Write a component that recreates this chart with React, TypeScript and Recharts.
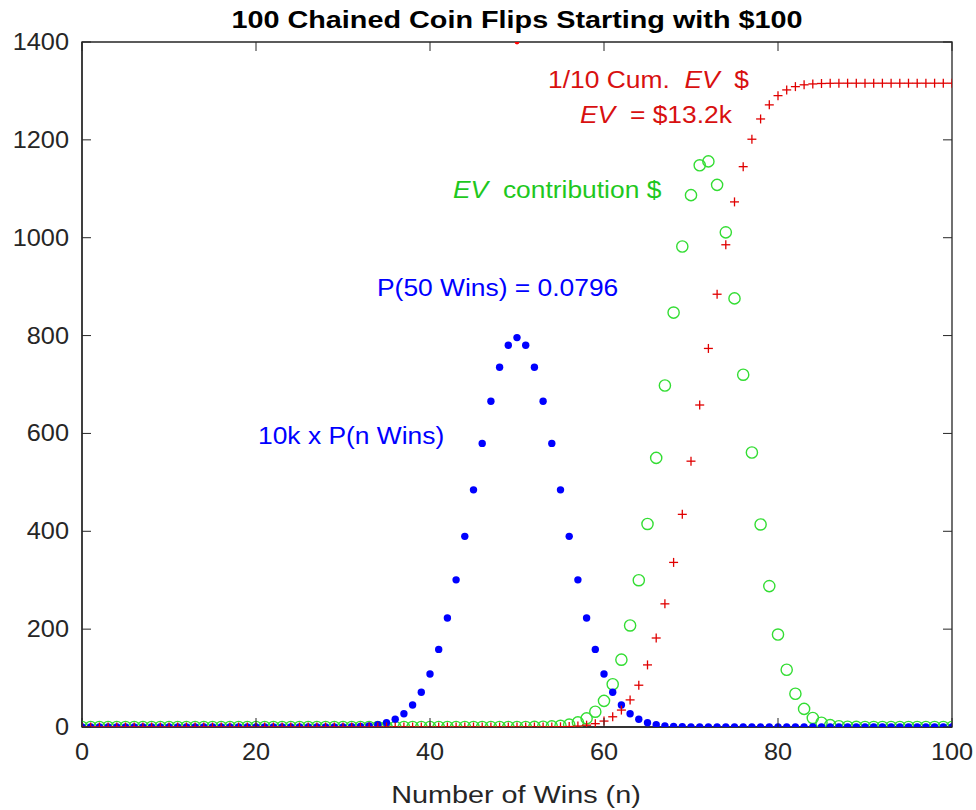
import React from 'react';
import { ScatterChart, Scatter, XAxis, YAxis, ReferenceArea } from 'recharts';

// ---- data ----
const wins = [
  0, 1, 2, 3, 4, 5, 6, 7, 8, 9, 10, 11, 12, 13, 14, 15, 16, 17, 18, 19,
  20, 21, 22, 23, 24, 25, 26, 27, 28, 29, 30, 31, 32, 33, 34, 35, 36, 37, 38, 39,
  40, 41, 42, 43, 44, 45, 46, 47, 48, 49, 50, 51, 52, 53, 54, 55, 56, 57, 58, 59,
  60, 61, 62, 63, 64, 65, 66, 67, 68, 69, 70, 71, 72, 73, 74, 75, 76, 77, 78, 79,
  80, 81, 82, 83, 84, 85, 86, 87, 88, 89, 90, 91, 92, 93, 94, 95, 96, 97, 98, 99, 100,
];

// 10k x P(n Wins)
const probScaled = [
  0, 0, 0, 0, 0, 0, 0, 0, 0, 0, 0, 0, 0, 0, 0, 0, 0, 0, 0, 0,
  0, 0, 0, 0, 0, 0, 0, 0, 0, 0.1, 0.2, 0.5, 1.1, 2.3, 4.6, 8.6, 15.9, 27.2, 44.9, 71.1,
  108.4, 158.6, 222.9, 300.7, 389.7, 484.7, 579.6, 665.9, 735.3, 780.3, 795.9, 780.3, 735.3, 665.9, 579.6, 484.7, 389.7, 300.7, 222.9, 158.6,
  108.4, 71.1, 44.9, 27.2, 15.9, 8.6, 4.6, 2.3, 1.1, 0.5, 0.2, 0.1, 0, 0, 0, 0, 0, 0, 0, 0,
  0, 0, 0, 0, 0, 0, 0, 0, 0, 0, 0, 0, 0, 0, 0, 0, 0, 0, 0, 0, 0,
];

// EV contribution $
const evContribution = [
  0, 0, 0, 0, 0, 0, 0, 0, 0, 0, 0, 0, 0, 0, 0, 0, 0, 0, 0, 0,
  0, 0, 0, 0, 0, 0, 0, 0, 0, 0, 0, 0, 0, 0, 0, 0, 0, 0, 0, 0,
  0, 0, 0, 0, 0, 0, 0, 0, 0, 0, 0.04, 0.1, 0.24, 0.54, 1.2, 2.4, 4.9, 9.5, 17.6, 31.3,
  53.4, 87.5, 137.6, 207.5, 300, 415, 550, 698, 847, 982, 1087, 1148, 1156, 1108, 1011, 876, 720, 561, 414, 288,
  189, 117, 68, 37, 18.5, 8.7, 3.8, 1.5, 0.6, 0.2, 0.1, 0, 0, 0, 0, 0, 0, 0, 0, 0, 0,
];

// 1/10 cumulative EV $
const cumEvTenth = [
  0, 0, 0, 0, 0, 0, 0, 0, 0, 0, 0, 0, 0, 0, 0, 0, 0, 0, 0, 0,
  0, 0, 0, 0, 0, 0, 0, 0, 0, 0, 0, 0, 0, 0, 0, 0, 0, 0, 0, 0,
  0, 0, 0, 0, 0, 0, 0, 0, 0, 0, 0, 0, 0, 0.1, 0.2, 0.45, 0.9, 1.9, 3.7, 6.8,
  12.1, 20.9, 34.6, 55.4, 85.4, 126.9, 181.9, 251.7, 336.4, 434.6, 543.3, 658.1, 773.7, 884.5, 985.6, 1073.2, 1145.2, 1201.3, 1242.7, 1271.5,
  1290.4, 1302.1, 1308.8, 1312.5, 1314.3, 1315.2, 1315.6, 1315.8, 1315.8, 1315.8, 1315.8, 1315.8, 1315.8, 1315.8, 1315.8, 1315.8, 1315.8, 1315.8, 1315.8, 1315.8, 1315.8,
];

const topMarkerX = [50];
const topMarkerY = [1400];

const xTicks = [0, 20, 40, 60, 80, 100];
const yTicks = [0, 200, 400, 600, 800, 1000, 1200, 1400];

const blueData = wins.map((n, i) => ({ n, v: probScaled[i] }));
const greenData = wins.map((n, i) => ({ n, v: evContribution[i] }));
const redData = wins.map((n, i) => ({ n, v: cumEvTenth[i] }));
const dotData = topMarkerX.map((n, i) => ({ n, v: topMarkerY[i] }));

// ---- layout ----
const W = 976;
const H = 810;
const M = { top: 42, right: 24, bottom: 23, left: 0 };
const YW = 82;
const XH = 60;
const PW = W - M.left - M.right - YW;
const PH = H - M.top - M.bottom - XH;
const AX = '#262626';
const FONT = "'Liberation Sans', Arial, Helvetica, sans-serif";
const BLUE = '#0000ff';
const GREEN = '#33dd33';
const RED = '#e00000';
const RED_TXT = '#d81010';
const GREEN_TXT = '#1ec81e';

const T = ({ x, y, size, sx, anchor = 'start', weight = 'normal', fill = AX, children }: any) => (
  <text
    transform={`translate(${x},${y}) scale(${sx},1)`}
    x={0}
    y={0}
    fontSize={size}
    fontFamily={FONT}
    textAnchor={anchor}
    fontWeight={weight}
    fill={fill}
    style={{ whiteSpace: 'pre' }}
  >
    {children}
  </text>
);

const XTick = (props: any) => {
  const { x, y, payload } = props;
  return (
    <g>
      <line x1={x} x2={x} y1={y} y2={y - 9} stroke={AX} strokeWidth={1} />
      <line x1={x} x2={x} y1={y - PH} y2={y - PH + 9} stroke={AX} strokeWidth={1} />
      <T x={x} y={y + 33} size={23} sx={1.1} anchor="middle">{String(payload.value)}</T>
    </g>
  );
};

const YTick = (props: any) => {
  const { x, y, payload } = props;
  return (
    <g>
      <line x1={x} x2={x + 9} y1={y} y2={y} stroke={AX} strokeWidth={1} />
      <line x1={x + PW} x2={x + PW - 9} y1={y} y2={y} stroke={AX} strokeWidth={1} />
      <T x={x - 13} y={y + 8} size={23} sx={1.1} anchor="end">{String(payload.value)}</T>
    </g>
  );
};

const GreenCircle = (p: any) => (
  <circle cx={p.cx} cy={p.cy} r={5.6} fill="none" stroke={GREEN} strokeWidth={1.4} />
);
const BlueDot = (p: any) => <circle cx={p.cx} cy={p.cy} r={3.7} fill={BLUE} />;
const RedPlus = (p: any) => (
  <g stroke={RED} strokeWidth={1.3}>
    <line x1={p.cx - 4.5} x2={p.cx + 4.5} y1={p.cy} y2={p.cy} />
    <line x1={p.cx} x2={p.cx} y1={p.cy - 4.5} y2={p.cy + 4.5} />
  </g>
);
const RedDot = (p: any) => <circle cx={p.cx} cy={p.cy} r={2.4} fill="#ff0000" />;

export default function App() {
  return (
    <div style={{ position: 'absolute', left: 0, top: 0, width: W, height: H, background: '#fff' }}>
      <ScatterChart width={W} height={H} margin={M}>
        <XAxis
          type="number"
          dataKey="n"
          domain={[0, 100]}
          ticks={xTicks}
          height={XH}
          tickSize={0}
          tickMargin={0}
          tick={<XTick />}
          axisLine={{ stroke: AX, strokeWidth: 1.3 }}
          tickLine={false}
          allowDataOverflow
        />
        <YAxis
          type="number"
          dataKey="v"
          domain={[0, 1400]}
          ticks={yTicks}
          width={YW}
          tickSize={0}
          tickMargin={0}
          tick={<YTick />}
          axisLine={{ stroke: AX, strokeWidth: 1.3 }}
          tickLine={false}
          allowDataOverflow
        />
        <ReferenceArea x1={0} x2={100} y1={0} y2={1400} fill="none" fillOpacity={0} stroke={AX} strokeWidth={1.3} />
        <Scatter data={greenData} shape={GreenCircle} isAnimationActive={false} />
        <Scatter data={blueData} shape={BlueDot} isAnimationActive={false} />
        <Scatter data={redData} shape={RedPlus} isAnimationActive={false} />
        <Scatter data={dotData} shape={RedDot} isAnimationActive={false} />
      </ScatterChart>
      <svg width={W} height={H} style={{ position: 'absolute', left: 0, top: 0, pointerEvents: 'none' }}>
        <T x={517} y={28} size={24} sx={1.2} anchor="middle" weight="bold" fill="#000">
          100 Chained Coin Flips Starting with $100
        </T>
        <T x={516} y={803} size={24} sx={1.2} anchor="middle">Number of Wins (n)</T>
        <T x={548} y={88} size={24} sx={1.1} fill={RED_TXT}>
          <tspan>{'1/10 Cum.  '}</tspan>
          <tspan fontStyle="italic">EV</tspan>
          <tspan>{'  $'}</tspan>
        </T>
        <T x={580} y={123} size={24} sx={1.1} fill={RED_TXT}>
          <tspan fontStyle="italic">EV</tspan>
          <tspan>{'  = $13.2k'}</tspan>
        </T>
        <T x={453} y={198} size={24} sx={1.1} fill={GREEN_TXT}>
          <tspan fontStyle="italic">EV</tspan>
          <tspan>{'  contribution $'}</tspan>
        </T>
        <T x={377} y={296} size={24} sx={1.1} fill={BLUE}>P(50 Wins) = 0.0796</T>
        <T x={258} y={444} size={24} sx={1.1} fill={BLUE}>10k x P(n Wins)</T>
      </svg>
    </div>
  );
}
